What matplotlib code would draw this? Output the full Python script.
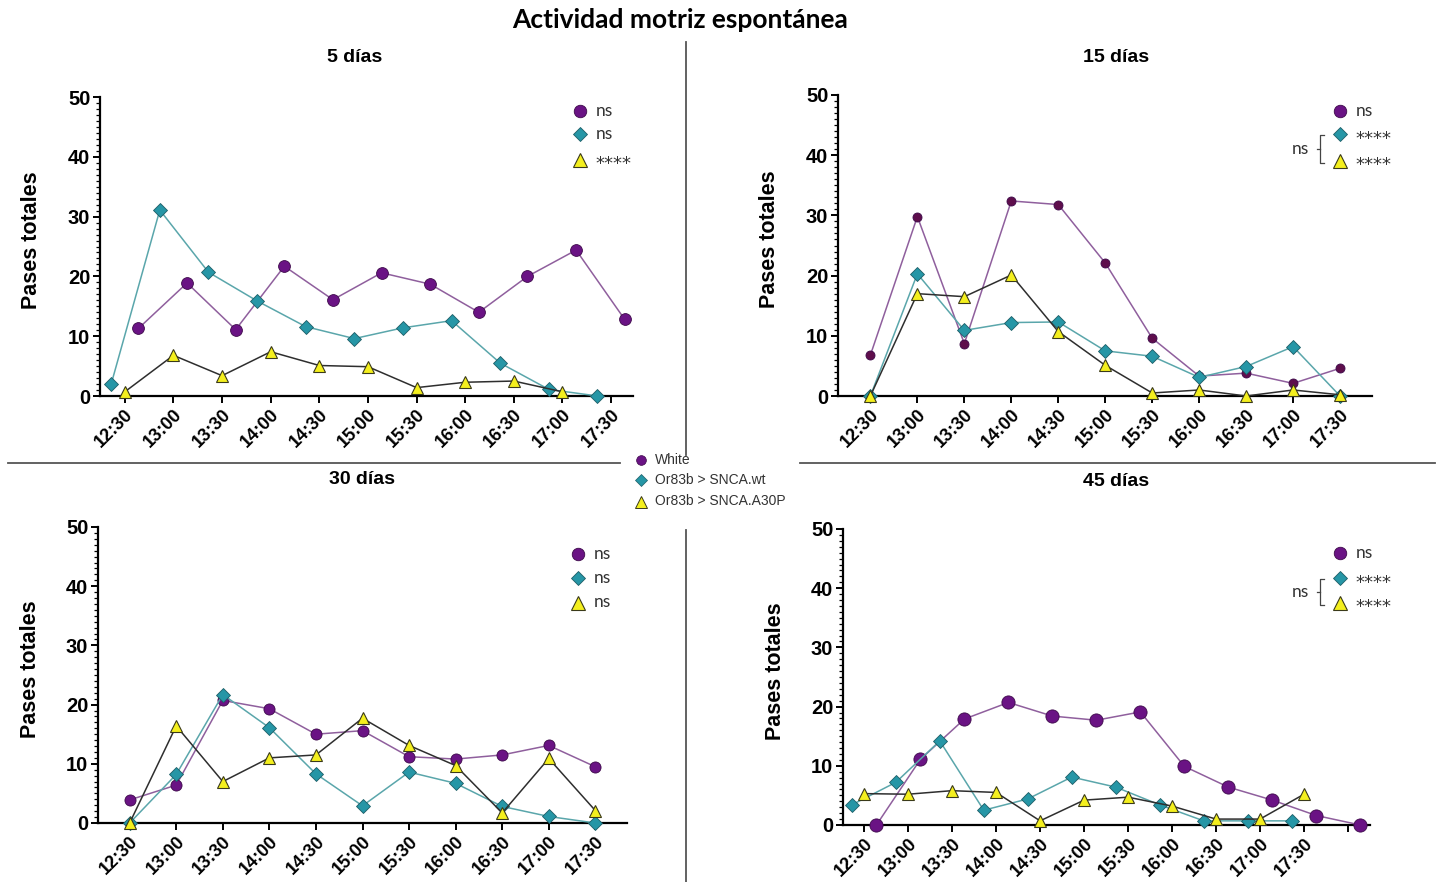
import numpy as np
import matplotlib.pyplot as plt
from matplotlib.ticker import MultipleLocator

plt.rcParams['font.family'] = ['Liberation Sans', 'DejaVu Sans']

# horas de registro
times = ['12:30', '13:00', '13:30', '14:00', '14:30', '15:00',
         '15:30', '16:00', '16:30', '17:00', '17:30']

# pases totales por franja, 5 días
d5_white = [11.3, 18.9, 11.1, 21.7, 16.1, 20.6, 18.7, 14.0, 20.0, 24.4, 12.8]
d5_wt = [2.0, 31.1, 20.7, 15.9, 11.6, 9.6, 11.4, 12.6, 5.5, 1.1, 0.0]
d5_a30p = [0.7, 6.8, 3.4, 7.4, 5.1, 4.9, 1.4, 2.3, 2.5, 0.7]

# 15 días
d15_white = [6.8, 29.8, 8.7, 32.4, 31.8, 22.1, 9.6, 3.3, 3.8, 2.1, 4.6]
d15_wt = [0.0, 20.3, 10.9, 12.2, 12.3, 7.5, 6.6, 3.1, 4.9, 8.2, 0.0]
d15_a30p = [0.0, 17.0, 16.5, 20.1, 10.7, 5.1, 0.5, 1.0, 0.0, 1.0, 0.2]

# 30 días
d30_white = [3.9, 6.4, 20.7, 19.3, 15.0, 15.6, 11.2, 10.8, 11.5, 13.1, 9.5]
d30_wt = [0.0, 8.2, 21.7, 16.1, 8.3, 2.9, 8.6, 6.7, 2.8, 1.1, 0.0]
d30_a30p = [0.0, 16.4, 7.0, 11.0, 11.5, 17.7, 13.1, 9.7, 1.7, 10.9, 2.1]

# 45 días
d45_white = [0.0, 11.1, 17.9, 20.7, 18.4, 17.7, 19.1, 9.9, 6.4, 4.2, 1.6, 0.0]
d45_wt = [3.4, 7.2, 14.2, 2.5, 4.4, 8.1, 6.4, 3.4, 0.7, 0.7, 0.7]
d45_a30p = [5.3, 5.2, 5.8, 5.5, 0.7, 4.2, 4.7, 3.2, 1.0, 1.0, 5.2]

# significancia de cada grupo
sig5 = ['ns', 'ns', '****']
sig15 = ['ns', '****', '****']
sig30 = ['ns', 'ns', 'ns']
sig45 = ['ns', '****', '****']

groups = ['White', 'Or83b > SNCA.wt', 'Or83b > SNCA.A30P']

PURPLE = '#6a1384'
PURPLE_LINE = '#8f5f9d'
TEAL = '#2696a6'
TEAL_LINE = '#5aa6ab'
YELLOW = '#f4ef1e'
DARK = '#2e2e2e'

W, H = 1442, 882
fig = plt.figure(figsize=(W / 100, H / 100), dpi=100)

# capa en píxeles para separadores, leyendas y corchetes
ov = fig.add_axes([0, 0, 1, 1])
ov.set_xlim(0, W)
ov.set_ylim(H, 0)
ov.axis('off')
ov.patch.set_alpha(0)


def px_axes(left, right, top, bottom):
    return fig.add_axes([left / W, 1 - bottom / H, (right - left) / W, (bottom - top) / H])


def panel(ax, white, wt, a30p, xlim, nticks, shift, wsize, wcolor):
    xw = np.arange(len(white)) + shift
    xt = np.arange(len(wt)) - shift
    xa = np.arange(len(a30p))
    ax.plot(xw, white, '-o', color=PURPLE_LINE, lw=1.1, ms=wsize, mfc=wcolor,
            mec='#3d0a4a', mew=0.6, clip_on=False, zorder=3)
    ax.plot(xt, wt, '-D', color=TEAL_LINE, lw=1.1, ms=7, mfc=TEAL,
            mec='#1d5d66', mew=0.6, clip_on=False, zorder=4)
    ax.plot(xa, a30p, '-^', color=DARK, lw=1.1, ms=9, mfc=YELLOW,
            mec='#3a3a1a', mew=0.8, clip_on=False, zorder=5)
    ax.set_xlim(*xlim)
    ax.set_ylim(0, 50)
    ax.set_xticks(np.arange(nticks))
    ax.set_xticklabels((times + [''] * nticks)[:nticks], rotation=45,
                       ha='right', rotation_mode='anchor', fontweight='bold',
                       fontsize=13)
    ax.set_yticks(np.arange(0, 51, 10))
    ax.yaxis.set_minor_locator(MultipleLocator(1))
    plt.setp(ax.get_yticklabels(), fontweight='bold', fontsize=14.5)
    ax.tick_params(axis='both', which='major', length=5, width=1.4, pad=2)
    ax.tick_params(axis='y', which='minor', length=3, width=0.9)
    for s in ('top', 'right'):
        ax.spines[s].set_visible(False)
    for s in ('left', 'bottom'):
        ax.spines[s].set_linewidth(1.6)
    ax.set_ylabel('Pases totales', fontsize=15.5, fontweight='bold')
    ax.yaxis.set_label_coords(-0.108, 0.52)
    ax.patch.set_alpha(0)


def sig_legend(x, ys, labels, bracket=False):
    ov.plot(x, ys[0], 'o', ms=9, mfc=PURPLE, mec='#3d0a4a', mew=0.6)
    ov.plot(x, ys[1], 'D', ms=7.5, mfc=TEAL, mec='#1d5d66', mew=0.6)
    ov.plot(x, ys[2] + 1, '^', ms=10, mfc=YELLOW, mec='#3a3a1a', mew=0.8)
    for y, lab in zip(ys, labels):
        if lab.startswith('*'):
            ov.text(x + 15, y + 5, lab, family=['DejaVu Sans'], fontsize=13,
                    color='#333333', ha='left', va='center')
        else:
            ov.text(x + 16, y, lab, family=['Lato', 'DejaVu Sans'], fontsize=12.5,
                    color='#333333', ha='left', va='center')
    if bracket:
        bx = x - 20
        ov.plot([bx + 4, bx, bx, bx + 4], [ys[1] + 1, ys[1] + 1, ys[2] + 3, ys[2] + 3],
                color='#444444', lw=0.9)
        ym = (ys[1] + ys[2]) / 2 + 2
        ov.plot([bx - 3, bx], [ym, ym], color='#444444', lw=0.9)
        ov.text(bx - 20, ym, 'ns', family=['Lato', 'DejaVu Sans'], fontsize=12.5,
                color='#333333', ha='center', va='center')


ax1 = px_axes(100, 633, 97, 396)
panel(ax1, d5_white, d5_wt, d5_a30p, (-0.51, 10.45), 11, 0.28, 8.5, PURPLE)
ax2 = px_axes(838, 1372, 95, 396)
panel(ax2, d15_white, d15_wt, d15_a30p, (-0.69, 10.68), 11, 0.0, 6.5, '#5e0e4c')
ax3 = px_axes(98, 627, 527, 823)
panel(ax3, d30_white, d30_wt, d30_a30p, (-0.68, 10.68), 11, 0.0, 8, PURPLE)
ax4 = px_axes(843, 1370, 529, 825)
panel(ax4, d45_white, d45_wt, d45_a30p, (-0.48, 11.5), 12, 0.28, 9.5, PURPLE)

sig_legend(580, [111, 134, 159], sig5)
sig_legend(1340, [111, 134, 160], sig15, bracket=True)
sig_legend(578, [554, 578, 602], sig30)
sig_legend(1340, [553, 578, 602], sig45, bracket=True)

# títulos
fig.text(680 / W, 1 - 20 / H, 'Actividad motriz espontánea', family=['Lato', 'DejaVu Sans'],
         fontweight='bold', fontsize=19, ha='center', va='center')
for x, y, t in [(355, 58, '5 días'), (1116, 57, '15 días'),
                (362, 479, '30 días'), (1116, 481, '45 días')]:
    fig.text(x / W, 1 - y / H, t, fontweight='bold', fontsize=14,
             ha='center', va='center')

# separadores
ov.plot([686, 686], [42, 455], color='#555555', lw=1.3)
ov.plot([686, 686], [530, 882], color='#555555', lw=1.3)
ov.plot([8, 620], [463, 463], color='#555555', lw=1.3)
ov.plot([800, 1435], [463, 463], color='#555555', lw=1.3)

# leyenda central
lx = 641
ov.plot(lx, 460, 'o', ms=7, mfc=PURPLE, mec='#3d0a4a', mew=0.5)
ov.plot(lx, 480, 'D', ms=6, mfc=TEAL, mec='#1d5d66', mew=0.5)
ov.plot(lx, 502, '^', ms=8, mfc=YELLOW, mec='#3a3a1a', mew=0.7)
for y, g in zip([460, 480, 501], groups):
    ov.text(lx + 14, y, g, fontsize=10, color='#333333', ha='left', va='center')

fig.savefig('out.png', dpi=100)
